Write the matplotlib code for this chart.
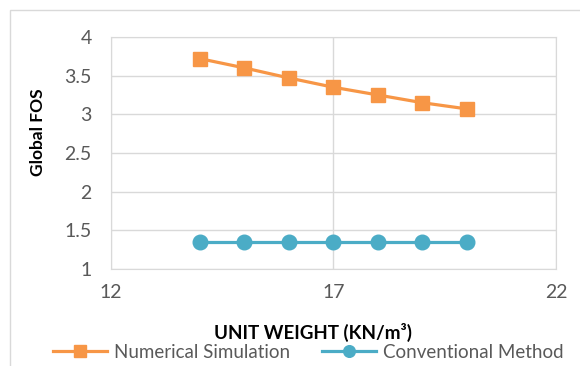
import matplotlib.pyplot as plt
from matplotlib.patches import Rectangle

plt.rcParams['font.family'] = ['Lato', 'DejaVu Sans']

# unit weight (KN/m3) vs global factor of safety
unit_weight = [14, 15, 16, 17, 18, 19, 20]
fos_numerical = [3.72, 3.60, 3.47, 3.35, 3.25, 3.15, 3.07]
fos_conventional = [1.35, 1.35, 1.35, 1.35, 1.35, 1.35, 1.35]
xticks = [12, 17, 22]
yticks = [1, 1.5, 2, 2.5, 3, 3.5, 4]

orange = '#F79646'
teal = '#4BACC6'
grid = '#D9D9D9'
txt = '#595959'

fig = plt.figure(figsize=(5.8, 3.66), dpi=100)
ax = fig.add_axes([111/580, 1-269/366, (556-111)/580, (269-37)/366])

ax.plot(unit_weight, fos_numerical, color=orange, lw=2.3, marker='s', ms=10.5,
        label='Numerical Simulation', zorder=3)
ax.plot(unit_weight, fos_conventional, color=teal, lw=2.3, marker='o', ms=10.5,
        label='Conventional Method', zorder=3)

ax.set_xlim(12, 22)
ax.set_ylim(1, 4)
ax.set_xticks(xticks)
ax.set_yticks(yticks)
ax.set_yticklabels(['1', '1.5', '2', '2.5', '3', '3.5', '4'])
ax.grid(True, color=grid, lw=1)
for s in ax.spines.values():
    s.set_color(grid)
ax.tick_params(length=0, labelsize=14, colors=txt)
ax.tick_params(axis='x', pad=11)
ax.tick_params(axis='y', pad=14)

fig.text(313/580, 1-332/366, 'UNIT WEIGHT (KN/m³)', ha='center', va='center',
         fontsize=13.5, fontweight='bold')
fig.text(38/580, 1-132/366, 'Global FOS', ha='center', va='center', rotation=90,
         fontsize=12.5, fontweight='bold')

leg = fig.legend(loc='center', bbox_to_anchor=(308/580, 1-352/366), ncol=2, frameon=False,
                 fontsize=13.5, handlelength=2.9, columnspacing=1.7, handletextpad=0.35,
                 borderaxespad=0, markerscale=0.8)
for t in leg.get_texts():
    t.set_color(txt)

# outer chart frame
fig.patches.append(Rectangle((10/580, -0.1), 1.0, 1.1 - 10/366, transform=fig.transFigure,
                             fill=False, edgecolor=grid, lw=1))

fig.savefig('out.png', dpi=100)
